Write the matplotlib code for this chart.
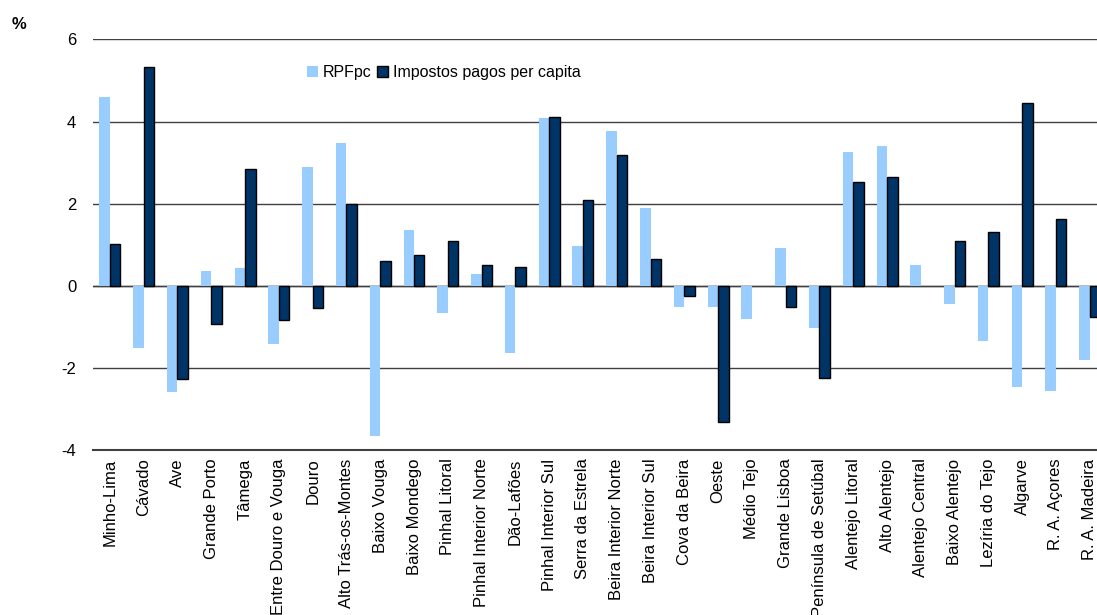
import numpy as np
import matplotlib
matplotlib.use("Agg")
from matplotlib import pyplot as plt

plt.rcParams["font.family"] = ["Liberation Sans", "DejaVu Sans"]
plt.rcParams["axes.unicode_minus"] = False

regions = [
    "Minho-Lima", "Cávado", "Ave", "Grande Porto", "Tâmega",
    "Entre Douro e Vouga", "Douro", "Alto Trás-os-Montes", "Baixo Vouga",
    "Baixo Mondego", "Pinhal Litoral", "Pinhal Interior Norte", "Dão-Lafões",
    "Pinhal Interior Sul", "Serra da Estrela", "Beira Interior Norte",
    "Beira Interior Sul", "Cova da Beira", "Oeste", "Médio Tejo",
    "Grande Lisboa", "Península de Setúbal", "Alentejo Litoral",
    "Alto Alentejo", "Alentejo Central", "Baixo Alentejo", "Lezíria do Tejo",
    "Algarve", "R. A. Açores", "R. A. Madeira",
]
rpfpc = [
    4.59, -1.52, -2.59, 0.35, 0.43, -1.42, 2.89, 3.47, -3.65, 1.35,
    -0.67, 0.30, -1.64, 4.08, 0.98, 3.76, 1.89, -0.52, -0.52, -0.81,
    0.91, -1.03, 3.25, 3.40, 0.50, -0.45, -1.35, -2.45, -2.57, -1.81,
]
# no value shown for Médio Tejo and Alentejo Central
impostos = [
    1.02, 5.33, -2.27, -0.93, 2.84, -0.82, -0.55, 1.99, 0.61, 0.76,
    1.10, 0.50, 0.46, 4.11, 2.10, 3.18, 0.65, -0.25, -3.32, np.nan,
    -0.52, -2.24, 2.54, 2.66, np.nan, 1.10, 1.32, 4.44, 1.62, -0.77,
]

light = "#99CCFF"
dark = "#003366"

fig = plt.figure(figsize=(10.97, 6.15), dpi=100)
ax = fig.add_axes([0.0848, 0.268, 0.924, 0.668])

x = np.arange(len(regions))
w = 0.31
ax.bar(x - w / 2, rpfpc, width=w, color=light, label="RPFpc", zorder=3)
ax.bar(x + w / 2, impostos, width=w, color=dark, edgecolor="black",
       linewidth=1.0, label="Impostos pagos per capita", zorder=3)

ax.set_xlim(-0.5, len(regions) - 0.5)
ax.set_ylim(-4, 6)
ax.set_yticks([-4, -2, 0, 2, 4, 6])
ax.yaxis.grid(True, color="#404040", linewidth=1.0, zorder=1)
ax.axhline(0, color="#404040", linewidth=1.0, zorder=2)
ax.axhline(-4, color="#404040", linewidth=1.5, zorder=2, clip_on=False)
for s in ax.spines.values():
    s.set_visible(False)
ax.tick_params(axis="y", length=0, pad=12, labelsize=12)
ax.tick_params(axis="x", length=0, pad=6, labelsize=12)
ax.set_xticks(x)
ax.set_xticklabels(regions, rotation=90, va="top", ha="center")

fig.text(0.011, 0.96, "%", fontsize=12, fontweight="bold", va="center")

ax.legend(loc="center left", bbox_to_anchor=(0.205, 0.92), ncol=2,
          frameon=False, fontsize=11.5, handlelength=0.7, handleheight=0.7,
          handletextpad=0.3, columnspacing=0.3, borderaxespad=0)

fig.savefig("out.png", dpi=100)
